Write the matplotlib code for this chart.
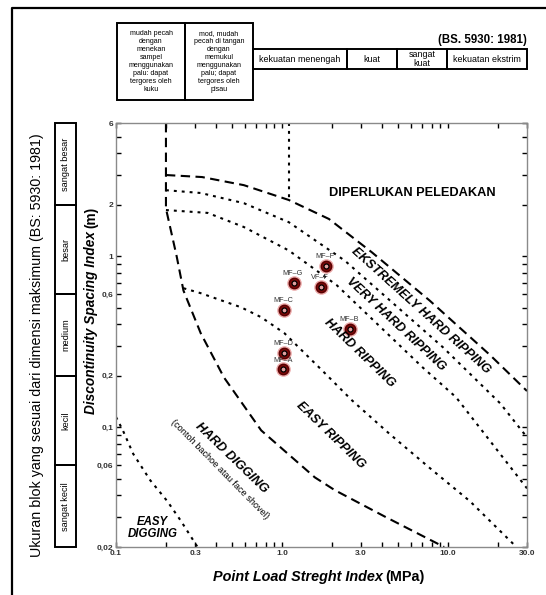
import matplotlib.pyplot as plt
import matplotlib.transforms as mtransforms
from matplotlib.patches import Rectangle
from matplotlib.lines import Line2D
from matplotlib.ticker import LogLocator, NullFormatter

plt.rcParams['font.family'] = ['Liberation Sans', 'DejaVu Sans']

# boundary curves (Point load index MPa, discontinuity spacing m)
dig_rip_x = [0.2, 0.2, 0.232, 0.255, 0.324, 0.447, 0.75, 1.58, 2.08, 4.2, 9.5]
dig_rip_y = [6, 1.9, 1.0, 0.63, 0.355, 0.196, 0.096, 0.051, 0.043, 0.030, 0.02]

blast_x = [0.2, 0.33, 0.59, 1.10, 1.92, 3.5, 7.78, 18, 30]
blast_y = [2.98, 2.90, 2.60, 2.13, 1.65, 1.05, 0.55, 0.264, 0.163]

ext_x = [0.2, 0.324, 0.59, 1.10, 2.40, 9.33, 20.7, 30]
ext_y = [2.43, 2.34, 2.04, 1.58, 0.94, 0.294, 0.138, 0.0875]

vhard_x = [0.2, 0.357, 0.59, 1.10, 2.14, 7.05, 11.2, 30]
vhard_y = [1.86, 1.79, 1.48, 1.08, 0.677, 0.224, 0.150, 0.044]

hard_x = [0.255, 0.324, 0.567, 0.75, 1.035, 1.45, 1.74, 2.64, 4.43, 7.76, 13.6, 25.9]
hard_y = [0.65, 0.608, 0.503, 0.44, 0.355, 0.257, 0.216, 0.144, 0.092, 0.058, 0.037, 0.02]

easydig_x = [0.1, 0.110, 0.127, 0.161, 0.204, 0.245, 0.31]
easydig_y = [0.115, 0.096, 0.070, 0.049, 0.037, 0.0286, 0.02]

vline_x = [1.1, 1.1]
vline_y = [6, 2.13]

# samples
names = ["MF–F", "MF–G", "VF–F", "MF–C", "MF–B", "MF–D", "MF–A"]
pl_index = [1.84, 1.175, 1.71, 1.035, 2.57, 1.035, 1.02]
spacing = [0.875, 0.695, 0.659, 0.483, 0.374, 0.271, 0.218]

yticks = [0.02, 0.06, 0.1, 0.2, 0.6, 1, 2, 6]
ylabels = ["0,02", "0,06", "0,1", "0,2", "0,6", "1", "2", "6"]
xticks = [0.1, 0.3, 1.0, 3.0, 10.0, 30.0]
xlabels = ["0.1", "0.3", "1.0", "3.0", "10.0", "30.0"]

size_classes = ["sangat kecil", "kecil", "medium", "besar", "sangat besar"]
size_edges = [0.02, 0.06, 0.2, 0.6, 2, 6]

W, H = 546, 595
fig = plt.figure(figsize=(W / 100, H / 100), dpi=100)


def fx(px):
    return px / W


def fy(py):
    return 1 - py / H


ax = fig.add_axes([fx(116), fy(547), fx(527) - fx(116), fy(123) - fy(547)])
ax.set_xscale('log')
ax.set_yscale('log')
ax.set_xlim(0.1, 30)
ax.set_ylim(0.02, 6)

lw = 1.5
ax.plot(dig_rip_x, dig_rip_y, color='black', lw=lw, ls=(0, (4.5, 2.6)))
ax.plot(blast_x, blast_y, color='black', lw=lw, ls=(0, (4.5, 2.6)))
for xs, ys in [(ext_x, ext_y), (vhard_x, vhard_y), (hard_x, hard_y),
               (easydig_x, easydig_y), (vline_x, vline_y)]:
    ax.plot(xs, ys, color='black', lw=lw, ls=(0, (1.4, 2.4)))

# points
ax.plot(pl_index, spacing, 'o', ms=10.5, color='#d23c3c', alpha=0.45, mec='none')
ax.plot(pl_index, spacing, 'o', ms=7.5, color='#7c0a0a', mec='#5a0000')
ax.plot(pl_index, spacing, 'o', ms=3.6, mfc='#e0a0a0', mec='black', mew=0.9)
for n, x, y in zip(names, pl_index, spacing):
    ax.annotate(n, (x, y), xytext=(-0.5, 4.2), textcoords='offset points',
                ha='center', va='bottom', fontsize=5.2, color='#333333')

# region labels
bi = dict(fontsize=9.2, fontweight='bold', fontstyle='italic',
          ha='center', va='center', rotation_mode='anchor')
ax.text(6.12, 2.34, "DIPERLUKAN PELEDAKAN", fontsize=9.2, fontweight='bold',
        ha='center', va='center')
ax.text(6.85, 0.480, "EKSTREMELY HARD RIPPING", rotation=-42, **bi)
ax.text(4.83, 0.400, "VERY HARD RIPPING", rotation=-43, **bi)
ax.text(2.92, 0.271, "HARD RIPPING", rotation=-44, **bi)
ax.text(1.97, 0.0897, "EASY RIPPING", rotation=-44, **bi)
ax.text(0.50, 0.066, "HARD DIGGING", rotation=-44, **bi)
ax.text(0.423, 0.0569, "(contoh bachoe atau face shovel)", rotation=-45.5,
        fontsize=6.6, ha='center', va='center', rotation_mode='anchor')
ax.text(0.166, 0.0257, "EASY\nDIGGING", fontsize=8.3, fontweight='bold',
        fontstyle='italic', ha='center', va='center', linespacing=1.0)

# axes styling
ax.set_yticks(yticks)
ax.set_yticklabels(ylabels)
ax.set_xticks(xticks)
ax.set_xticklabels(xlabels)
ax.xaxis.set_minor_locator(LogLocator(base=10, subs=range(2, 10)))
ax.yaxis.set_minor_locator(LogLocator(base=10, subs=range(2, 10)))
ax.xaxis.set_minor_formatter(NullFormatter())
ax.yaxis.set_minor_formatter(NullFormatter())
ax.tick_params(which='both', direction='in', top=True, right=True,
               length=3.5, width=1.0, color='black')
ax.tick_params(labelsize=6, pad=2)
for lab in ax.get_xticklabels() + ax.get_yticklabels():
    lab.set_fontweight('bold')
    lab.set_color('#333333')
for sp in ax.spines.values():
    sp.set_color('#8a8a8a')
    sp.set_linewidth(1.0)


def two_part(xc, yc, a, b, fs, rot=0, gap=3):
    # bold italic part followed by bold upright part, centred at pixel (xc, yc)
    r = fig.canvas.get_renderer()
    t1 = fig.text(0, 0, a, fontsize=fs, fontweight='bold', fontstyle='italic',
                  rotation=rot, ha='left', va='center', rotation_mode='anchor')
    t2 = fig.text(0, 0, b, fontsize=fs, fontweight='bold',
                  rotation=rot, ha='left', va='center', rotation_mode='anchor')
    e1 = t1.get_window_extent(r)
    e2 = t2.get_window_extent(r)
    if rot == 0:
        total = e1.width + gap + e2.width
        x0 = xc - total / 2
        t1.set_position((fx(x0), fy(yc)))
        t2.set_position((fx(x0 + e1.width + gap), fy(yc)))
    else:
        total = e1.height + gap + e2.height
        y0 = yc + total / 2  # pixel from top, text runs upward
        t1.set_position((fx(xc), fy(y0)))
        t2.set_position((fx(xc), fy(y0 - e1.height - gap)))


two_part(319, 577, "Point Load Streght Index", "(MPa)", 10.4)
two_part(91, 310, "Discontinuity Spacing Index", "(m)", 9.8, rot=90)

fig.text(fx(37), fy(345), "Ukuran blok yang sesuai dari dimensi maksimum (BS: 5930: 1981)",
         fontsize=10.3, rotation=90, ha='center', va='center')

# left block-size boxes, tied to spacing axis
trans = mtransforms.blended_transform_factory(fig.transFigure, ax.transData)
for i, name in enumerate(size_classes):
    y0, y1 = size_edges[i], size_edges[i + 1]
    fig.patches.append(Rectangle((fx(55), y0), fx(76) - fx(55), y1 - y0,
                                 transform=trans, fill=False, lw=1.4,
                                 ec='black', clip_on=False))
    ymid = (y0 * y1) ** 0.5
    fig.text(fx(65.5), ymid, name, transform=trans, rotation=90,
             fontsize=6.6, ha='center', va='center')

# top strength boxes
def fbox(x0, y0, x1, y1, txt, fs, ls=1.2):
    fig.patches.append(Rectangle((fx(x0), fy(y1)), fx(x1) - fx(x0), fy(y0) - fy(y1),
                                 transform=fig.transFigure, fill=False, lw=1.4,
                                 ec='black'))
    fig.text(fx((x0 + x1) / 2), fy((y0 + y1) / 2), txt, fontsize=fs,
             ha='center', va='center', linespacing=ls)


fbox(117, 23, 185, 100, "mudah pecah\ndengan\nmenekan\nsampel\nmenggunakan\npalu: dapat\ntergores oleh\nkuku", 5.1, 1.18)
fbox(185, 23, 253, 100, "mod, mudah\npecah di tangan\ndengan\nmemukul\nmenggunakan\npalu; dapat\ntergores oleh\npisau", 5.1, 1.18)
fbox(253, 49, 347, 69, "kekuatan menengah", 6.4)
fbox(347, 49, 397, 69, "kuat", 6.4)
fbox(397, 49, 447, 69, "sangat\nkuat", 6.4, 0.95)
fbox(447, 49, 527, 69, "kekuatan ekstrim", 6.4)
fig.text(fx(527), fy(40), "(BS. 5930: 1981)", fontsize=8.3, fontweight='bold',
         ha='right', va='center')

# outer frame (left and top)
fig.lines.append(Line2D([fx(12), fx(12), 1], [0, fy(8), fy(8)],
                        transform=fig.transFigure, color='black', lw=1.6))

fig.savefig("out.png", dpi=100)
